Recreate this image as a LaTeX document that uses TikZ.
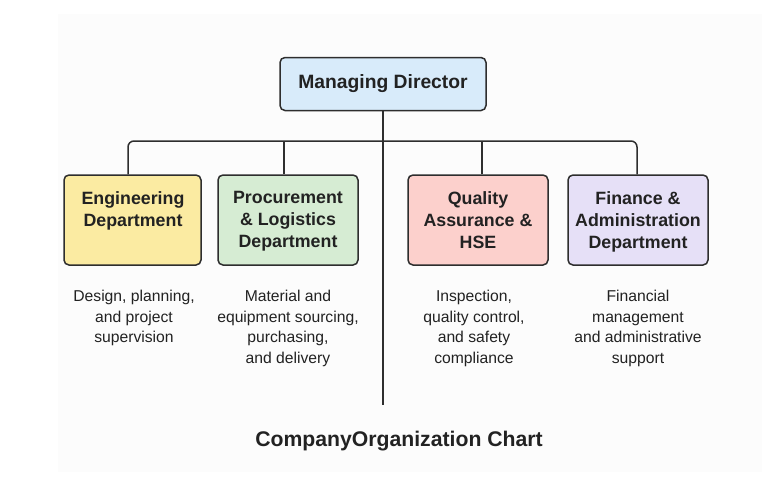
\documentclass[tikz,border=0pt]{standalone}
\usepackage{fontspec}
\setmainfont{Liberation Sans}
\definecolor{edge}{HTML}{2E2E2E}
\definecolor{mdfill}{HTML}{D8EBFA}
\definecolor{engfill}{HTML}{FBEBA2}
\definecolor{procfill}{HTML}{D6ECD3}
\definecolor{qafill}{HTML}{FCD0CC}
\definecolor{finfill}{HTML}{E6E0F7}
\definecolor{txt}{HTML}{222222}
\definecolor{panel}{HTML}{FCFCFC}
\tikzset{
  box/.style={draw=edge, line width=1.5pt, rounded corners=5pt, minimum width=137pt, minimum height=90pt, inner sep=0pt},
  boxtext/.style={anchor=north, align=center, text=txt, font=\fontsize{17.8}{22}\selectfont\bfseries, inner sep=0pt},
  desc/.style={anchor=north, align=center, text=txt, font=\fontsize{15.7}{20.5}\selectfont, inner sep=0pt},
  conn/.style={draw=edge, line width=1.5pt}
}
\begin{document}
\begin{tikzpicture}[x=1pt,y=-1pt]
\useasboundingbox (0,0) rectangle (776,480);
\fill[white] (0,0) rectangle (776,480);
\fill[panel] (58,14) rectangle (762,472);
% Managing director
\node[box, fill=mdfill, minimum width=206pt, minimum height=53pt, font=\fontsize{19.3}{22}\selectfont\bfseries, text=txt] (md) at (383,84) {Managing Director};
% Department boxes
\node[box, fill=engfill] (eng) at (132.5,220) {};
\node[box, fill=procfill, minimum width=140pt] (proc) at (288,220) {};
\node[box, fill=qafill, minimum width=140pt] (qa) at (478,220) {};
\node[box, fill=finfill, minimum width=140pt] (fin) at (638,220) {};
\node[boxtext] (engt) at (133,191.5) {Engineering\\Department};
\node[boxtext] (proct) at (288,191.5) {Procurement\\\& Logistics\\Department};
\node[boxtext] (qat) at (478,191.5) {Quality\\Assurance \&\\HSE};
\node[boxtext] (fint) at (638,191.5) {Finance \&\\Administration\\Department};
% Descriptions
\node[desc] (engd) at (134,290) {Design, planning,\\and project\\supervision};
\node[desc] (procd) at (288,290) {Material and\\equipment sourcing,\\purchasing,\\and delivery};
\node[desc] (qad) at (474,290) {Inspection,\\quality control,\\and safety\\compliance};
\node[desc] (find) at (638,290) {Financial\\management\\and administrative\\support};
% Title
\node[text=txt, font=\fontsize{21.2}{24}\selectfont\bfseries] (title) at (399,441.5) {CompanyOrganization Chart};
% Connectors
\coordinate (mdend) at (383,405);
\coordinate (bl) at (128,141);
\coordinate (br) at (637,141);
\draw[conn] (md.south) -- (mdend);
\draw[conn, rounded corners=6pt] (eng.north -| bl) -- (bl) -- (br) -- (fin.north -| br);
\draw[conn] (proc.north -| 284,0) -- (284,141);
\draw[conn] (qa.north -| 482,0) -- (482,141);
\end{tikzpicture}
\end{document}
